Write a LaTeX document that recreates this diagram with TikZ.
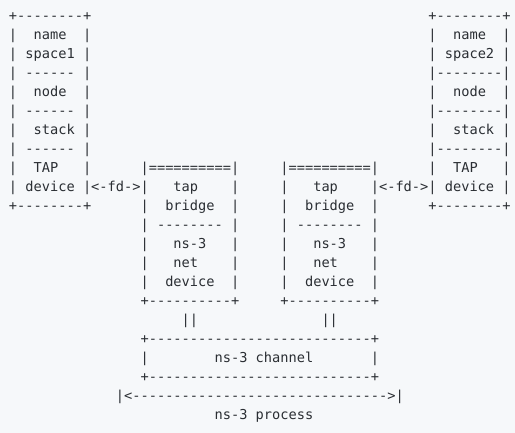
\documentclass[tikz,border=0pt]{standalone}
\usepackage{fontspec}
\setmonofont{DejaVu Sans Mono}
\definecolor{bg}{HTML}{F6F8FA}
\definecolor{txt}{HTML}{2A2E33}
\newdimen\cw
\cw=8.224pt
\newcommand\asciifont{\ttfamily\fontsize{13.66pt}{19pt}\selectfont}
\newcommand\g[1]{\kern#1\cw}
\begin{document}
\begin{tikzpicture}[x=1pt,y=1pt,
  asciiline/.style={inner sep=0pt, outer sep=0pt, anchor=base west, font=\asciifont, text=txt}]
\fill[bg] (0,0) rectangle (515,433);
\useasboundingbox (0,0) rectangle (515,433);
\node[asciiline] (l1)  at (9,412) {+--------+\g{41}+--------+};
\node[asciiline] (l2)  at (9,393) {|\g2name\g2|\g{41}|\g2name\g2|};
\node[asciiline] (l3)  at (9,374) {|\g1space1\g1|\g{41}|\g1space2\g1|};
\node[asciiline] (l4)  at (9,355) {|\g1------\g1|\g{41}|--------|};
\node[asciiline] (l5)  at (9,336) {|\g2node\g2|\g{41}|\g2node\g2|};
\node[asciiline] (l6)  at (9,317) {|\g1------\g1|\g{41}|--------|};
\node[asciiline] (l7)  at (9,298) {|\g2stack\g1|\g{41}|\g2stack\g1|};
\node[asciiline] (l8)  at (9,279) {|\g1------\g1|\g{41}|--------|};
\node[asciiline] (l9)  at (9,260) {|\g2TAP\g3|\g6|==========|\g5|==========|\g6|\g2TAP\g3|};
\node[asciiline] (l10) at (9,241) {|\g1device\g1|<-fd->|\g3tap\g4|\g5|\g3tap\g4|<-fd->|\g1device\g1|};
\node[asciiline] (l11) at (9,222) {+--------+\g6|\g2bridge\g2|\g5|\g2bridge\g2|\g6+--------+};
\node[asciiline] (l12) at (9,203) {\g{16}|\g1--------\g1|\g5|\g1--------\g1|};
\node[asciiline] (l13) at (9,184) {\g{16}|\g3ns-3\g3|\g5|\g3ns-3\g3|};
\node[asciiline] (l14) at (9,165) {\g{16}|\g3net\g4|\g5|\g3net\g4|};
\node[asciiline] (l15) at (9,146) {\g{16}|\g2device\g2|\g5|\g2device\g2|};
\node[asciiline] (l16) at (9,127) {\g{16}+----------+\g5+----------+};
\node[asciiline] (l17) at (9,108) {\g{21}||\g{15}||};
\node[asciiline] (l18) at (9,89)  {\g{16}+---------------------------+};
\node[asciiline] (l19) at (9,70)  {\g{16}|\g8ns-3\g1channel\g7|};
\node[asciiline] (l20) at (9,51)  {\g{16}+---------------------------+};
\node[asciiline] (l21) at (9,32)  {\g{13}|<------------------------------->|};
\node[asciiline] (l22) at (9,13)  {\g{25}ns-3\g1process};
\end{tikzpicture}
\end{document}
